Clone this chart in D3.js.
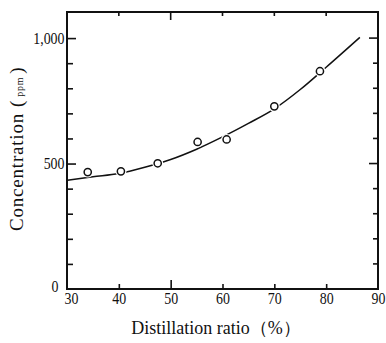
<!DOCTYPE html>
<html>
<head>
<meta charset="utf-8">
<script src="https://cdn.jsdelivr.net/npm/d3@7"></script>
<style>
  body { margin: 0; background: #fff; }
  text { font-family: "Liberation Serif", "DejaVu Serif", serif; fill: #111; }
</style>
</head>
<body>
<div id="outlet"></div>
<script>
// measured points (distillation ratio %, concentration ppm)
const ratio = [34.0, 40.4, 47.5, 55.2, 60.8, 70.0, 78.8];
const conc = [466, 469, 501, 586, 596, 728, 868];

// fitted curve
const curveRatio = [30, 35, 40, 45, 50, 55, 60, 65, 70, 75, 80, 86.5];
const curveConc = [433, 447, 460, 485, 516, 557, 606, 660, 718, 795, 884, 1003];

const xTicks = [30, 40, 50, 60, 70, 80, 90];
const yTicks = [0, 100, 200, 300, 400, 500, 600, 700, 800, 900, 1000];
const yLabels = { 0: "0", 500: "500", 1000: "1,000" };

const width = 386, height = 343;
const marginLeft = 67, marginRight = 8, marginTop = 12, marginBottom = 54;

const x = d3.scaleLinear().domain([30, 90]).range([marginLeft, width - marginRight]);
const y = d3.scaleLinear().domain([0, 1100]).range([height - marginBottom, marginTop + 1]);

const svg = d3.select("#outlet").append("svg")
  .attr("width", width)
  .attr("height", height)
  .attr("viewBox", [0, 0, width, height]);

const ink = "#111";

// frame
svg.append("rect")
  .attr("x", x(30)).attr("y", marginTop)
  .attr("width", x(90) - x(30))
  .attr("height", y(0) - marginTop)
  .attr("fill", "none").attr("stroke", ink).attr("stroke-width", 2);

// bottom axis: ticks pointing up, 50 longer
const xAxis = d3.axisBottom(x).tickValues(xTicks).tickSizeInner(0).tickSizeOuter(0).tickPadding(3);
svg.append("g")
  .attr("transform", `translate(0,${y(0)})`)
  .call(xAxis)
  .call(g => g.select(".domain").remove())
  .call(g => g.selectAll(".tick line")
    .attr("y2", d => (d === 30 || d === 90) ? 0 : (d === 50 ? -9 : -5))
    .attr("stroke", ink).attr("stroke-width", 1.6))
  .call(g => g.selectAll(".tick text")
    .attr("font-size", 17)
    .attr("font-family", "Liberation Serif, serif")
    .attr("transform", d => d === 30 ? "translate(4,0) scale(0.82,1)" : "scale(0.82,1)"));

// top ticks pointing down
svg.append("g")
  .selectAll("line")
  .data(xTicks.filter(d => d > 30 && d < 90))
  .join("line")
  .attr("x1", d => x(d)).attr("x2", d => x(d))
  .attr("y1", marginTop).attr("y2", d => marginTop + (d === 50 ? 8 : 4))
  .attr("stroke", ink).attr("stroke-width", 1.6);

// left axis: ticks pointing right
const yAxis = d3.axisLeft(y).tickValues(yTicks).tickSizeInner(0).tickSizeOuter(0).tickPadding(3)
  .tickFormat(d => yLabels[d] || "");
svg.append("g")
  .attr("transform", `translate(${x(30)},0)`)
  .call(yAxis)
  .call(g => g.select(".domain").remove())
  .call(g => g.selectAll(".tick line")
    .attr("x2", d => d === 0 ? 0 : (d % 500 === 0 ? 9 : 6))
    .attr("stroke", ink).attr("stroke-width", 1.6))
  .call(g => g.selectAll(".tick text")
    .attr("font-size", 17)
    .attr("font-family", "Liberation Serif, serif")
    .attr("transform", d => d === 0 ? "translate(-6,-3) scale(0.82,1)" : "scale(0.82,1)"));

// right ticks pointing left
svg.append("g")
  .selectAll("line")
  .data(yTicks.filter(d => d > 0))
  .join("line")
  .attr("x1", x(90)).attr("x2", d => x(90) - (d % 500 === 0 ? 9 : 5))
  .attr("y1", d => y(d)).attr("y2", d => y(d))
  .attr("stroke", ink).attr("stroke-width", 1.6);

// curve
const line = d3.line()
  .curve(d3.curveMonotoneX)
  .x(i => x(curveRatio[i]))
  .y(i => y(curveConc[i]));
svg.append("path")
  .attr("d", line(d3.range(curveRatio.length)))
  .attr("fill", "none").attr("stroke", ink).attr("stroke-width", 1.5);

// points with a small white gap around them
const pts = svg.append("g");
pts.selectAll("circle.halo")
  .data(d3.range(ratio.length))
  .join("circle")
  .attr("class", "halo")
  .attr("cx", i => x(ratio[i])).attr("cy", i => y(conc[i]))
  .attr("r", 5.5).attr("fill", "#fff");
pts.selectAll("circle.pt")
  .data(d3.range(ratio.length))
  .join("circle")
  .attr("class", "pt")
  .attr("cx", i => x(ratio[i])).attr("cy", i => y(conc[i]))
  .attr("r", 3.6).attr("fill", "#fff").attr("stroke", ink).attr("stroke-width", 1.5);

// axis titles
svg.append("text")
  .attr("x", 216).attr("y", 334)
  .attr("text-anchor", "middle")
  .attr("font-size", 18)
  .text("Distillation ratio（%）");

const yt = svg.append("text")
  .attr("transform", "translate(23,231) rotate(-90)")
  .attr("text-anchor", "start")
  .attr("font-size", 19)
  .attr("letter-spacing", 0.8);
yt.append("tspan").text("Concentration");
yt.append("tspan").attr("dx", 6).text("(");
yt.append("tspan").attr("dx", 3).attr("font-size", 10).text("ppm");
yt.append("tspan").attr("dx", 3).text(")");
</script>
</body>
</html>
